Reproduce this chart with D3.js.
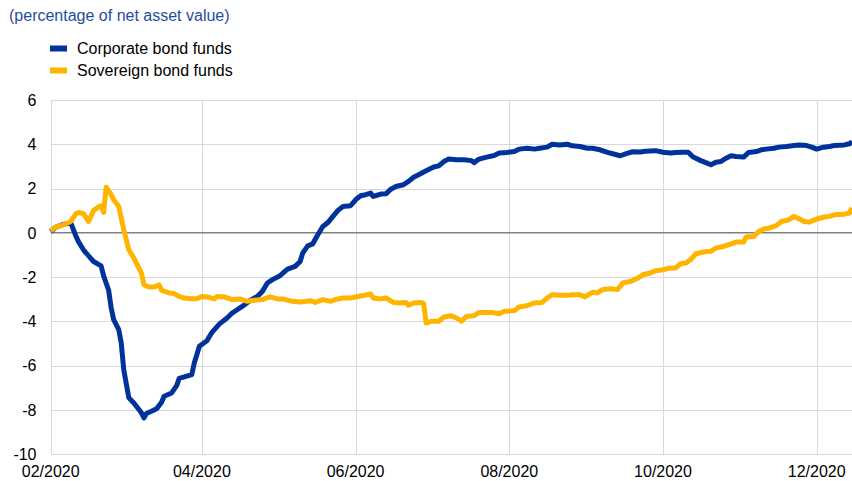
<!DOCTYPE html>
<html>
<head>
<meta charset="utf-8">
<script src="https://cdn.jsdelivr.net/npm/d3@7"></script>
<style>
  html, body { margin: 0; padding: 0; background: #fff; }
  svg { display: block; font-family: "Liberation Sans", Arial, sans-serif; }
</style>
</head>
<body>
<svg id="chart" width="852" height="481"></svg>
<script>
const title = "(percentage of net asset value)";
const seriesNames = ["Corporate bond funds", "Sovereign bond funds"];
const seriesColors = ["#003399", "#ffb400"];
const yTicks = [6, 4, 2, 0, -2, -4, -6, -8, -10];
const xTickDates = ["2020-02-01", "2020-04-01", "2020-06-01", "2020-08-01", "2020-10-01", "2020-12-01"];
const xTickLabels = ["02/2020", "04/2020", "06/2020", "08/2020", "10/2020", "12/2020"];
const xDomain = ["2020-02-01", "2020-12-15"];

const corporateDates = ["2020-02-01","2020-02-03","2020-02-06","2020-02-09","2020-02-11","2020-02-12","2020-02-14","2020-02-16","2020-02-18","2020-02-21","2020-02-22","2020-02-24","2020-02-25","2020-02-26","2020-02-28","2020-02-29","2020-03-01","2020-03-03","2020-03-05","2020-03-06","2020-03-08","2020-03-09","2020-03-10","2020-03-12","2020-03-14","2020-03-16","2020-03-17","2020-03-20","2020-03-22","2020-03-23","2020-03-25","2020-03-28","2020-03-29","2020-03-30","2020-03-31","2020-04-03","2020-04-05","2020-04-08","2020-04-11","2020-04-13","2020-04-15","2020-04-17","2020-04-20","2020-04-23","2020-04-25","2020-04-27","2020-04-29","2020-05-02","2020-05-05","2020-05-08","2020-05-10","2020-05-11","2020-05-13","2020-05-15","2020-05-17","2020-05-19","2020-05-21","2020-05-23","2020-05-25","2020-05-27","2020-05-30","2020-06-01","2020-06-03","2020-06-05","2020-06-07","2020-06-08","2020-06-11","2020-06-13","2020-06-15","2020-06-17","2020-06-20","2020-06-22","2020-06-24","2020-06-26","2020-06-29","2020-07-02","2020-07-04","2020-07-06","2020-07-08","2020-07-11","2020-07-14","2020-07-17","2020-07-18","2020-07-20","2020-07-23","2020-07-26","2020-07-28","2020-07-31","2020-08-03","2020-08-05","2020-08-08","2020-08-11","2020-08-13","2020-08-16","2020-08-18","2020-08-21","2020-08-24","2020-08-26","2020-08-29","2020-09-01","2020-09-03","2020-09-06","2020-09-09","2020-09-11","2020-09-14","2020-09-17","2020-09-19","2020-09-22","2020-09-24","2020-09-26","2020-09-28","2020-10-01","2020-10-04","2020-10-06","2020-10-09","2020-10-11","2020-10-13","2020-10-16","2020-10-18","2020-10-20","2020-10-22","2020-10-24","2020-10-26","2020-10-28","2020-10-30","2020-11-02","2020-11-04","2020-11-07","2020-11-09","2020-11-11","2020-11-14","2020-11-16","2020-11-19","2020-11-22","2020-11-24","2020-11-27","2020-11-29","2020-12-01","2020-12-03","2020-12-06","2020-12-08","2020-12-12","2020-12-14","2020-12-15"];
const corporateValues = [0.05,0.25,0.38,0.45,-0.15,-0.4,-0.77,-1.04,-1.3,-1.5,-1.95,-2.6,-3.4,-3.93,-4.38,-4.98,-6.2,-7.46,-7.69,-7.84,-8.14,-8.37,-8.17,-8.07,-7.96,-7.66,-7.39,-7.24,-6.91,-6.58,-6.51,-6.41,-5.88,-5.51,-5.13,-4.88,-4.5,-4.12,-3.85,-3.63,-3.48,-3.33,-3.07,-2.88,-2.65,-2.27,-2.12,-1.94,-1.64,-1.52,-1.3,-0.92,-0.59,-0.5,-0.09,0.28,0.46,0.74,1.01,1.19,1.22,1.49,1.67,1.72,1.79,1.64,1.75,1.76,1.97,2.09,2.17,2.32,2.51,2.62,2.8,2.97,3.02,3.22,3.33,3.30,3.30,3.26,3.17,3.33,3.42,3.49,3.6,3.63,3.67,3.78,3.82,3.78,3.82,3.87,4.0,3.97,4.0,3.93,3.9,3.82,3.82,3.75,3.63,3.57,3.48,3.6,3.66,3.65,3.68,3.70,3.71,3.64,3.6,3.63,3.64,3.64,3.42,3.26,3.17,3.07,3.19,3.22,3.37,3.48,3.45,3.42,3.63,3.67,3.75,3.78,3.82,3.87,3.9,3.94,3.97,3.94,3.87,3.78,3.85,3.9,3.94,3.97,4.02,4.12];

const sovereignDates = ["2020-02-01","2020-02-03","2020-02-06","2020-02-09","2020-02-11","2020-02-12","2020-02-14","2020-02-16","2020-02-17","2020-02-18","2020-02-20","2020-02-21","2020-02-22","2020-02-23","2020-02-25","2020-02-26","2020-02-28","2020-03-01","2020-03-03","2020-03-05","2020-03-06","2020-03-08","2020-03-09","2020-03-11","2020-03-13","2020-03-15","2020-03-16","2020-03-19","2020-03-21","2020-03-23","2020-03-25","2020-03-28","2020-03-30","2020-04-01","2020-04-03","2020-04-06","2020-04-07","2020-04-10","2020-04-13","2020-04-16","2020-04-19","2020-04-21","2020-04-25","2020-04-28","2020-05-01","2020-05-03","2020-05-07","2020-05-10","2020-05-14","2020-05-16","2020-05-19","2020-05-22","2020-05-24","2020-05-27","2020-05-30","2020-06-01","2020-06-04","2020-06-07","2020-06-08","2020-06-11","2020-06-13","2020-06-16","2020-06-19","2020-06-21","2020-06-22","2020-06-24","2020-06-27","2020-06-28","2020-06-29","2020-07-01","2020-07-04","2020-07-06","2020-07-09","2020-07-11","2020-07-13","2020-07-15","2020-07-18","2020-07-20","2020-07-23","2020-07-25","2020-07-28","2020-07-30","2020-08-03","2020-08-05","2020-08-08","2020-08-11","2020-08-14","2020-08-16","2020-08-18","2020-08-21","2020-08-24","2020-08-26","2020-08-29","2020-08-31","2020-09-03","2020-09-05","2020-09-07","2020-09-10","2020-09-13","2020-09-15","2020-09-18","2020-09-21","2020-09-23","2020-09-26","2020-09-28","2020-10-01","2020-10-04","2020-10-06","2020-10-08","2020-10-10","2020-10-12","2020-10-14","2020-10-17","2020-10-20","2020-10-22","2020-10-25","2020-10-28","2020-10-30","2020-11-02","2020-11-03","2020-11-06","2020-11-08","2020-11-10","2020-11-12","2020-11-15","2020-11-17","2020-11-20","2020-11-22","2020-11-24","2020-11-26","2020-11-28","2020-12-01","2020-12-04","2020-12-06","2020-12-08","2020-12-12","2020-12-14","2020-12-15"];
const sovereignValues = [0.09,0.26,0.36,0.51,0.86,0.92,0.86,0.51,0.74,1.01,1.16,1.22,0.92,2.06,1.72,1.49,1.19,0.14,-0.77,-1.14,-1.37,-1.82,-2.35,-2.45,-2.45,-2.35,-2.6,-2.72,-2.75,-2.88,-2.95,-2.98,-2.98,-2.88,-2.9,-2.99,-2.88,-2.9,-3.02,-2.99,-3.1,-3.06,-3.02,-2.9,-2.99,-2.99,-3.1,-3.13,-3.07,-3.15,-3.02,-3.1,-3.02,-2.95,-2.95,-2.9,-2.84,-2.77,-2.95,-2.99,-2.95,-3.15,-3.17,-3.15,-3.28,-3.17,-3.15,-3.2,-4.08,-4.0,-4.0,-3.81,-3.75,-3.85,-4.0,-3.78,-3.75,-3.6,-3.6,-3.6,-3.66,-3.55,-3.52,-3.35,-3.3,-3.17,-3.15,-2.95,-2.8,-2.83,-2.83,-2.8,-2.8,-2.9,-2.69,-2.72,-2.57,-2.53,-2.57,-2.27,-2.2,-2.05,-1.9,-1.82,-1.72,-1.67,-1.59,-1.59,-1.4,-1.37,-1.22,-0.95,-0.87,-0.84,-0.69,-0.62,-0.5,-0.42,-0.42,-0.19,-0.17,0.06,0.17,0.21,0.32,0.51,0.59,0.74,0.63,0.51,0.48,0.62,0.71,0.74,0.81,0.84,0.89,1.12];

const parse = d3.timeParse("%Y-%m-%d");
const svg = d3.select("#chart");
const margin = { left: 50.7, right: 852, top: 100, bottom: 454 };

const x = d3.scaleTime().domain(xDomain.map(parse)).range([margin.left, margin.right]);
const y = d3.scaleLinear().domain([-10, 6]).range([margin.bottom, margin.top]);

// horizontal gridlines
svg.append("g").selectAll("line").data(yTicks.filter(t => t !== 0)).join("line")
  .attr("x1", margin.left).attr("x2", margin.right)
  .attr("y1", d => Math.round(y(d)) + 0.5).attr("y2", d => Math.round(y(d)) + 0.5)
  .attr("stroke", "#d9d9d9").attr("stroke-width", 1);

// vertical gridlines (including left axis)
svg.append("g").selectAll("line").data(xTickDates.map(parse)).join("line")
  .attr("x1", d => Math.round(x(d)) + 0.5).attr("x2", d => Math.round(x(d)) + 0.5)
  .attr("y1", margin.top).attr("y2", margin.bottom)
  .attr("stroke", "#d9d9d9").attr("stroke-width", 1);

// zero line
svg.append("line")
  .attr("x1", margin.left).attr("x2", margin.right)
  .attr("y1", y(0)).attr("y2", y(0))
  .attr("stroke", "#808080").attr("stroke-width", 1.3);

// y tick labels
svg.append("g").selectAll("text").data(yTicks).join("text")
  .attr("x", 36.5).attr("y", d => y(d)).attr("dy", "0.36em")
  .attr("text-anchor", "end").attr("font-size", 16).attr("fill", "#000")
  .text(d => d);

// x tick labels
svg.append("g").selectAll("text").data(xTickDates).join("text")
  .attr("x", d => x(parse(d))).attr("y", 477)
  .attr("text-anchor", "middle").attr("font-size", 16).attr("fill", "#000")
  .text((d, i) => xTickLabels[i]);

// lines
const line = d3.line().x(d => x(d[0])).y(d => y(d[1])).curve(d3.curveLinear);
const corporate = corporateDates.map((d, i) => [parse(d), corporateValues[i]]);
const sovereign = sovereignDates.map((d, i) => [parse(d), sovereignValues[i]]);
[corporate, sovereign].forEach((data, i) => {
  svg.append("path").datum(data)
    .attr("d", line).attr("fill", "none")
    .attr("stroke", seriesColors[i]).attr("stroke-width", 5)
    .attr("stroke-linejoin", "round").attr("stroke-linecap", "butt");
});

// title
svg.append("text").attr("x", 9).attr("y", 21)
  .attr("font-size", 16).attr("fill", "#1f4e9e").text(title);

// legend
const legend = svg.append("g");
seriesNames.forEach((name, i) => {
  const ly = 48.5 + i * 22;
  legend.append("rect").attr("x", 50).attr("y", ly - 3).attr("width", 17).attr("height", 6)
    .attr("fill", seriesColors[i]);
  legend.append("text").attr("x", 77).attr("y", ly + 5.5)
    .attr("font-size", 16).attr("fill", "#000").text(name);
});
</script>
</body>
</html>
